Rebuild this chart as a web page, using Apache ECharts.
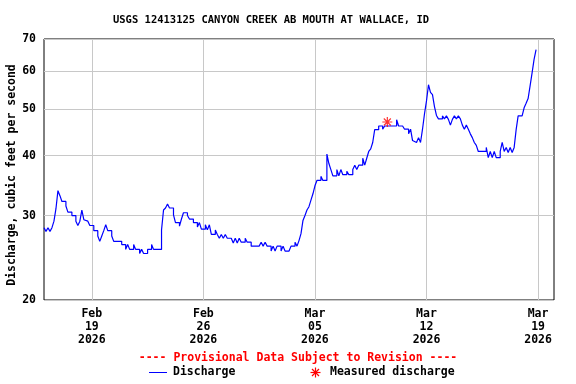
<!DOCTYPE html>
<html>
<head>
<meta charset="utf-8">
<script src="https://cdn.jsdelivr.net/npm/echarts@6/dist/echarts.min.js"></script>
<style>html,body{margin:0;padding:0;background:#fff}#c{width:576px;height:384px}</style>
</head>
<body>
<div id="c"></div>
<script>
// ---- data ----
var titleText = 'USGS 12413125 CANYON CREEK AB MOUTH AT WALLACE, ID';
var yAxisTitle = 'Discharge, cubic feet per second';
var provisionalText = '---- Provisional Data Subject to Revision ----';
var legendNames = ['Discharge', 'Measured discharge'];
var xStart = '2026-02-16T00:00:00Z';
var xEnd = '2026-03-20T00:00:00Z';
var xTickDates = ['2026-02-19T00:00:00Z', '2026-02-26T00:00:00Z', '2026-03-05T00:00:00Z', '2026-03-12T00:00:00Z', '2026-03-19T00:00:00Z'];
var monthNames = ['Jan','Feb','Mar','Apr','May','Jun','Jul','Aug','Sep','Oct','Nov','Dec'];
var yTicks = [20, 30, 40, 50, 60, 70];
var seriesStart = '2026-02-16T00:00:00Z';
var stepHours = 3;
// discharge (cfs), one value every 3 hours, 8 per day
var discharge = [
  28.3, 27.8, 28.3, 27.8, 28.3, 29.2, 31.0, 33.8,
  33.0, 32.1, 32.1, 31.4, 30.5, 30.5, 30.0, 30.0,
  29.2, 28.6, 29.2, 30.8, 29.4, 29.2, 29.2, 28.6,
  28.6, 27.9, 27.9, 27.2, 26.5, 27.2, 27.9, 28.7,
  27.9, 27.9, 27.2, 26.5, 26.5, 26.5, 26.5, 26.1,
  26.1, 25.5, 26.1, 25.5, 25.5, 26.1, 25.5, 25.5,
  25.0, 25.5, 25.0, 25.0, 25.5, 25.5, 26.1, 25.5,
  25.5, 25.5, 25.5, 28.0, 30.8, 31.1, 31.7, 31.1,
  31.1, 30.1, 29.0, 29.0, 28.5, 29.5, 30.4, 30.4,
  30.0, 29.5, 29.5, 29.0, 29.0, 28.4, 29.0, 28.1,
  28.1, 28.7, 28.0, 28.7, 27.4, 27.4, 28.0, 27.4,
  26.9, 27.4, 26.9, 27.4, 26.9, 26.9, 26.9, 26.3,
  26.9, 26.3, 26.9, 26.4, 26.4, 26.9, 26.4, 26.4,
  25.9, 25.9, 25.9, 25.9, 25.9, 26.4, 25.9, 26.4,
  25.9, 25.9, 25.3, 25.9, 25.3, 25.9, 25.9, 25.3,
  25.9, 25.3, 25.3, 25.3, 25.9, 25.9, 26.4, 25.9,
  26.6, 27.5, 29.3, 30.0, 30.8, 31.3, 32.3, 33.3,
  34.6, 35.5, 35.5, 36.2, 35.5, 35.5, 40.3, 38.5,
  37.4, 36.3, 36.3, 37.4, 36.3, 37.4, 36.5, 36.5,
  37.1, 36.5, 36.5, 37.4, 38.2, 37.4, 38.2, 38.2,
  39.5, 38.2, 39.5, 40.8, 41.3, 42.6, 45.3, 45.3,
  46.1, 46.1, 45.4, 46.1, 46.1, 46.1, 46.1, 46.1,
  46.1, 47.5, 46.1, 46.1, 46.2, 45.4, 45.4, 44.4,
  45.4, 43.0, 42.6, 42.6, 43.6, 42.6, 45.4, 48.9,
  52.0, 56.2, 54.2, 53.6, 50.6, 48.5, 47.7, 47.7,
  48.4, 47.7, 48.4, 47.6, 46.3, 47.6, 48.4, 47.7,
  48.4, 47.7, 46.3, 45.4, 46.3, 45.4, 44.4, 43.6,
  42.6, 42.0, 40.8, 40.8, 40.8, 40.8, 41.6, 39.6,
  40.8, 39.6, 40.8, 39.6, 39.6, 40.8, 42.6, 40.8,
  41.6, 40.6, 41.6, 40.6, 41.6, 45.3, 48.4, 48.4,
  48.4, 50.3, 51.4, 52.6, 55.9, 59.5, 63.5, 66.5
];
var measuredTimes = ['2026-03-09T13:00:00Z'];
var measuredValues = [47.0];

// ---- build ----
var t0 = Date.parse(seriesStart);
var lineData = discharge.map(function (v, i) { return [t0 + i * stepHours * 3600000, v]; });
var measuredData = measuredTimes.map(function (t, i) { return [Date.parse(t), measuredValues[i]]; });
var xTicks = xTickDates.map(function (d) { return Date.parse(d); });
function pad(n) { return (n < 10 ? '0' : '') + n; }

var FONT = '"DejaVu Sans Mono", "Liberation Mono", monospace';
var starPath = 'path://M5,0L5,10M0,5L10,5M1.5,1.5L8.5,8.5M8.5,1.5L1.5,8.5';

// legend star built from short line segments
var sx = 315.5, sy = 372.5, sr = 5;
function starLine(dx, dy) {
  return { type: 'line', shape: { x1: sx - dx, y1: sy - dy, x2: sx + dx, y2: sy + dy }, style: { stroke: '#ff0000', lineWidth: 1.2 } };
}

var chart = echarts.init(document.getElementById('c'), null, { renderer: 'canvas' });
chart.setOption({
  animation: false,
  backgroundColor: '#fff',
  grid: { left: 44, right: 22, top: 39, bottom: 84, show: true, borderColor: '#000', borderWidth: 1, backgroundColor: 'transparent' },
  xAxis: {
    type: 'value',
    min: Date.parse(xStart),
    max: Date.parse(xEnd),
    axisLine: { show: false },
    axisTick: { show: false, customValues: xTicks },
    splitLine: { show: true, lineStyle: { color: '#c8c8c8', width: 1 } },
    axisLabel: {
      customValues: xTicks,
      margin: 8,
      color: '#000',
      fontFamily: FONT,
      fontWeight: 'bold',
      fontSize: 11.5,
      lineHeight: 13,
      align: 'center',
      formatter: function (v) {
        var d = new Date(v);
        return monthNames[d.getUTCMonth()] + '\n' + pad(d.getUTCDate()) + '\n' + d.getUTCFullYear();
      }
    }
  },
  yAxis: {
    type: 'log',
    logBase: 10,
    min: 20,
    max: 70,
    axisLine: { show: false },
    axisTick: { show: false, customValues: yTicks },
    splitLine: { show: true, lineStyle: { color: '#c8c8c8', width: 1 } },
    axisLabel: {
      customValues: yTicks,
      margin: 8,
      color: '#000',
      fontFamily: FONT,
      fontWeight: 'bold',
      fontSize: 11.5
    }
  },
  series: [
    {
      name: legendNames[0],
      type: 'line',
      step: 'end',
      data: lineData,
      symbol: 'none',
      lineStyle: { color: '#0000ff', width: 1.2 },
      z: 3
    },
    {
      name: legendNames[1],
      type: 'scatter',
      data: measuredData,
      symbol: starPath,
      symbolSize: 10,
      itemStyle: { color: 'rgba(0,0,0,0)', borderColor: '#ff0000', borderWidth: 1.2 },
      z: 5
    }
  ],
  graphic: [
    { type: 'text', x: 271, y: 20, style: { text: titleText, font: 'bold 10.5px ' + FONT, fill: '#000', textAlign: 'center', textVerticalAlign: 'middle' } },
    { type: 'text', x: 12, y: 175, rotation: Math.PI / 2, style: { text: yAxisTitle, font: 'bold 11.5px ' + FONT, fill: '#000', textAlign: 'center', textVerticalAlign: 'middle' } },
    { type: 'text', x: 298, y: 358, style: { text: provisionalText, font: 'bold 11.5px ' + FONT, fill: '#ff0000', textAlign: 'center', textVerticalAlign: 'middle' } },
    { type: 'line', shape: { x1: 149, y1: 372.5, x2: 167, y2: 372.5 }, style: { stroke: '#0000ff', lineWidth: 1 } },
    { type: 'text', x: 173, y: 372, style: { text: legendNames[0], font: 'bold 11.5px ' + FONT, fill: '#000', textAlign: 'left', textVerticalAlign: 'middle' } },
    starLine(0, sr), starLine(sr, 0), starLine(sr * 0.7, sr * 0.7), starLine(sr * 0.7, -sr * 0.7),
    { type: 'text', x: 330, y: 372, style: { text: legendNames[1], font: 'bold 11.5px ' + FONT, fill: '#000', textAlign: 'left', textVerticalAlign: 'middle' } }
  ]
});
</script>
</body>
</html>
